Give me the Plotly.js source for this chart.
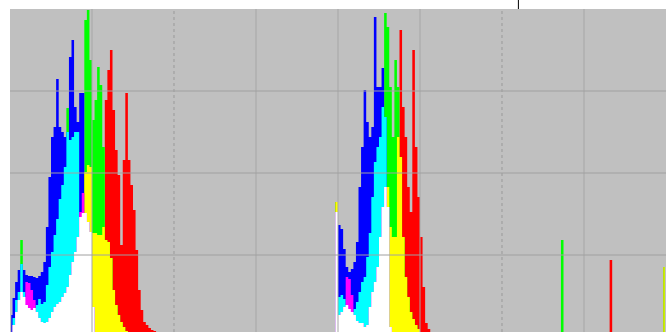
<!DOCTYPE html>
<html><head><meta charset="utf-8">
<script src="https://cdn.plot.ly/plotly-3.0.1.min.js"></script>
<style>html,body{margin:0;padding:0;background:#fff;}#chart{width:672px;height:332px;}</style>
</head><body><div id="chart"></div>
<script>
// histogram bins (0..255) that carry data
const bins = [0,1,2,3,4,5,6,7,8,9,10,11,12,13,14,15,16,17,18,19,20,21,22,23,24,25,26,27,28,29,
  30,31,32,33,34,35,36,37,38,39,40,41,42,43,44,45,46,47,48,49,50,51,52,53,54,55,56,57,
  126,127,128,129,130,131,132,133,134,135,136,137,138,139,140,141,142,143,144,145,146,147,148,149,
  150,151,152,153,154,155,156,157,158,159,160,161,162,163,164,165,
  214,215,216,233,234,235,254,255];

const blue = [22,39,55,67,73,67,62,61,61,60,59,61,65,75,110,160,200,210,258,210,205,200,205,280,297,230,215,244,244,124,
  115,105,30,5,0,0,0,0,0,0,0,0,0,0,0,0,0,0,0,0,0,0,0,0,0,0,0,0,
  0,125,112,108,88,70,65,68,75,95,150,190,247,215,200,210,320,250,250,269,220,130,10,0,
  0,0,0,0,0,0,0,0,0,0,0,0,0,0,0,0,
  0,0,0,0,0,0,0,0];

const green = [4,19,37,45,97,45,32,29,27,29,32,38,33,35,52,70,85,102,118,138,152,170,229,197,200,205,205,120,124,317,
  327,277,217,237,270,252,190,97,95,79,47,32,22,15,10,6,3,0,0,0,0,0,0,0,0,0,0,0,
  0,135,40,42,38,32,28,25,28,35,45,55,60,80,104,140,175,190,200,230,324,310,250,200,
  277,250,180,100,60,40,25,18,12,8,5,0,0,0,0,0,
  0,97,0,0,0,0,0,70];

const red = [2,12,25,37,45,40,55,54,47,37,25,19,15,14,15,19,25,30,33,35,40,44,50,62,75,85,100,125,144,165,
  172,170,104,104,102,102,110,237,267,287,227,187,162,92,177,244,177,152,127,87,47,27,15,12,9,7,6,0,
  0,135,22,25,30,60,58,42,22,16,14,14,10,12,30,45,55,70,100,130,150,150,110,100,
  100,200,307,230,200,150,125,287,190,140,100,50,14,8,5,0,
  0,0,0,0,77,0,0,70];

const gridX = [32,64,96,128,160,192,224];
const dottedX = [64,192];
const gridY = [82,164,246];
const markX = [198.4];

const xs = bins.map(b => b + 0.5);
const minOf = (...arrs) => arrs[0].map((_, i) => Math.min(...arrs.map(a => a[i])));

const layers = [
  {y: red, c: '#ff0000'},
  {y: green, c: '#00ff00'},
  {y: blue, c: '#0000ff'},
  {y: minOf(red, green), c: '#ffff00'},
  {y: minOf(green, blue), c: '#00ffff'},
  {y: minOf(red, blue), c: '#ff00ff'},
  {y: minOf(red, green, blue), c: '#ffffff'}
];

const traces = layers.map(l => ({
  type: 'scatter', x: xs, y: l.y, mode: 'none', fill: 'tozeroy',
  fillcolor: l.c, line: {shape: 'hvh', width: 0}, hoverinfo: 'skip', showlegend: false
}));

const shapes = [];
gridX.forEach(g => shapes.push({type: 'line', xref: 'x', yref: 'paper', x0: g, x1: g, y0: 0, y1: 1,
  layer: 'above', line: {color: dottedX.includes(g) ? '#999999' : '#a6a6a6', width: 1, dash: dottedX.includes(g) ? 'dot' : 'solid'}}));
gridY.forEach(g => shapes.push({type: 'line', xref: 'paper', yref: 'y', x0: 0, x1: 1, y0: g, y1: g,
  layer: 'above', line: {color: '#a0a0a0', width: 1}}));
markX.forEach(m => shapes.push({type: 'line', xref: 'x', yref: 'paper', x0: m, x1: m, y0: 1, y1: 1.028,
  layer: 'above', line: {color: '#000000', width: 1}}));

const layout = {
  width: 672, height: 332,
  margin: {l: 10, r: 6, t: 9, b: 0, pad: 0},
  paper_bgcolor: '#ffffff', plot_bgcolor: '#c0c0c0',
  xaxis: {range: [0, 256], showgrid: false, zeroline: false, showticklabels: false, ticks: '', showline: false, fixedrange: true},
  yaxis: {range: [5, 328], showgrid: false, zeroline: false, showticklabels: false, ticks: '', showline: false, fixedrange: true},
  shapes: shapes,
  showlegend: false
};

Plotly.newPlot('chart', traces, layout, {staticPlot: true, displayModeBar: false});
</script>
</body></html>
